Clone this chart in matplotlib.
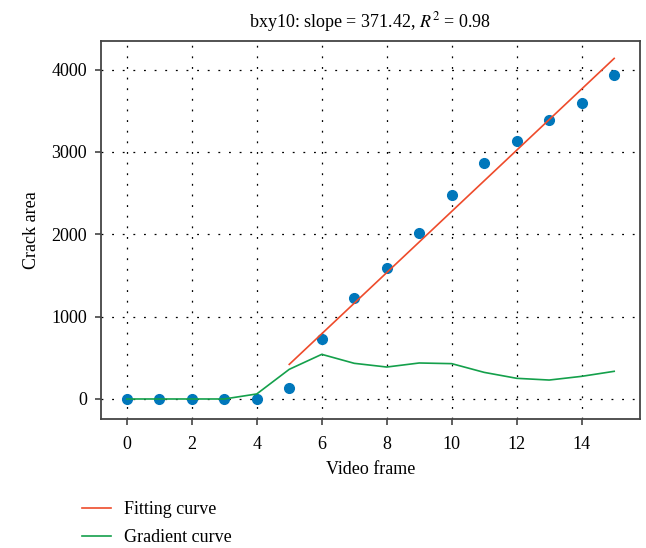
import matplotlib; matplotlib.use('Agg')
import numpy as np
from matplotlib import pyplot as plt

# crack area per video frame
frames = np.arange(16)
area = [0, 0, 4, 4, 4, 137, 728, 1229, 1593, 2010, 2475, 2871, 3134, 3385, 3595, 3939]

# linear fit over frames 5..15, endpoints
fit_x = [5, 15]
fit_y = [420, 4135]

# gradient of the area curve
grad = [0, 0, 0, 0, 61, 360, 542, 433, 388, 437, 429, 323, 251, 230, 275, 336]

title = 'bxy10: slope = 371.42, $R^2$ = 0.98'

plt.rcParams['font.family'] = ['Liberation Serif', 'DejaVu Serif']
plt.rcParams['mathtext.fontset'] = 'stix'
plt.rcParams['font.size'] = 13

fig = plt.figure(figsize=(6.46, 5.48), dpi=100)
ax = fig.add_axes([0.156, 0.2354, 0.835, 0.6896])

ax.plot(frames, area, 'o', color='#0077BB', ms=7, zorder=3)
ax.plot(fit_x, fit_y, color='#EE4B2B', lw=1.2, label='Fitting curve', zorder=4)
ax.plot(frames, grad, color='#14A04B', lw=1.2, label='Gradient curve', zorder=4)

ax.set_xlim(-0.8, 15.8)
ax.set_ylim(-243, 4345)
ax.set_xticks(range(0, 15, 2))
ax.set_yticks(range(0, 4001, 1000))
ax.grid(True, color='black', linestyle=(0, (1.5, 7)), linewidth=0.9)
ax.set_axisbelow(True)
for s in ax.spines.values():
    s.set_color('#444444')
    s.set_linewidth(1.3)
ax.tick_params(direction='out', length=4, width=1.2, color='#444444', pad=6)
ax.tick_params(axis='x', pad=8)

ax.set_xlabel('Video frame', labelpad=6)
ax.set_ylabel('Crack area', labelpad=8)
ax.set_title(title, fontsize=13, pad=10)

fig.legend(loc='upper left', bbox_to_anchor=(0.127, 0.085), frameon=False,
           handlelength=1.6, handletextpad=0.75, labelspacing=0.6,
           borderaxespad=0, borderpad=0)

fig.savefig('out.png', dpi=100)
